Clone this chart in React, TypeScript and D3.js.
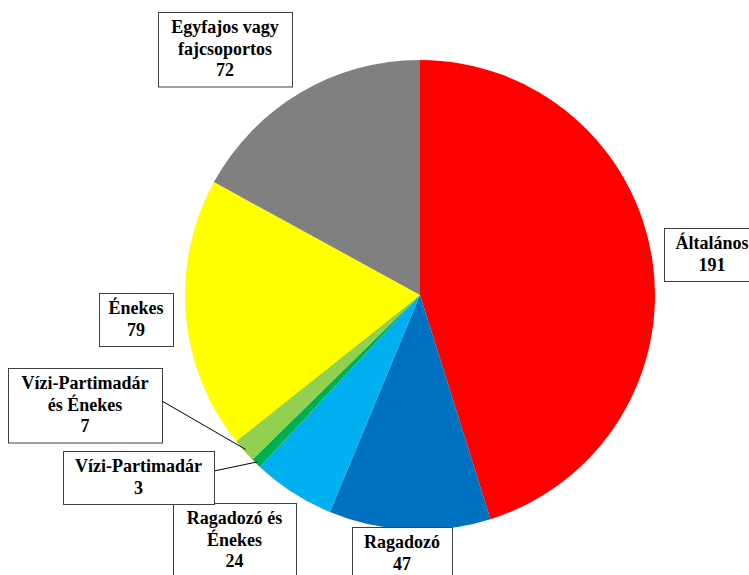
import * as d3 from "d3";

// kategóriák és értékek
const categories = [
  "Általános",
  "Ragadozó",
  "Ragadozó és Énekes",
  "Vízi-Partimadár",
  "Vízi-Partimadár és Énekes",
  "Énekes",
  "Egyfajos vagy fajcsoportos",
];
const values = [191, 47, 24, 3, 7, 79, 72];
const labelLines = [
  ["Általános"],
  ["Ragadozó"],
  ["Ragadozó és", "Énekes"],
  ["Vízi-Partimadár"],
  ["Vízi-Partimadár", "és Énekes"],
  ["Énekes"],
  ["Egyfajos vagy", "fajcsoportos"],
];
const colors = ["#FF0000", "#0070C0", "#00B0F0", "#00B050", "#92D050", "#FFFF00", "#808080"];

// label box layout (center x, top y, width), hand placed like in the original
const boxes = [
  { cx: 712, top: 228, w: 96, leader: false },
  { cx: 402, top: 527, w: 100, leader: false },
  { cx: 234.5, top: 503, w: 123, leader: false },
  { cx: 138.5, top: 451, w: 151, leader: true, ly: 471 },
  { cx: 85, top: 368, w: 154, leader: true, ly: 401 },
  { cx: 136, top: 293, w: 74, leader: false },
  { cx: 225, top: 12, w: 134, leader: false },
];

const width = 749;
const height = 575;
const cx = 420;
const cy = 295;
const radius = 235;
const lineH = 21.5;
const font = '"Liberation Serif", "DejaVu Serif", "Times New Roman", serif';

export default function App() {
  const data = categories.map((c, i) => ({ name: c, value: values[i], i }));
  const pie = d3.pie<{ name: string; value: number; i: number }>()
    .sort(null)
    .value(d => d.value);
  const arcs = pie(data);
  const arc = d3.arc<d3.PieArcDatum<any>>().innerRadius(0).outerRadius(radius);

  return (
    <svg
      width={width}
      height={height}
      style={{ position: "absolute", left: 0, top: 0, background: "#fff" }}
    >
      <g transform={`translate(${cx},${cy})`}>
        {arcs.map(a => (
          <path key={a.data.name} d={arc(a) || ""} fill={colors[a.data.i]} />
        ))}
      </g>
      {arcs.map(a => {
        const b = boxes[a.data.i];
        const lines = [...labelLines[a.data.i], String(a.data.value)];
        const h = lines.length * lineH + 10;
        const mid = (a.startAngle + a.endAngle) / 2;
        const px = cx + (radius - 2) * Math.sin(mid);
        const py = cy - (radius - 2) * Math.cos(mid);
        return (
          <g key={"lbl" + a.data.name}>
            {b.leader && (
              <line x1={b.cx + b.w / 2} y1={b.ly} x2={px} y2={py} stroke="#000" strokeWidth={1} />
            )}
            <rect
              x={b.cx - b.w / 2 + 0.5}
              y={b.top + 0.5}
              width={b.w}
              height={h}
              fill="#fff"
              stroke="#404040"
              strokeWidth={1}
            />
            {lines.map((t, k) => (
              <text
                key={k}
                x={b.cx}
                y={b.top + 5 + lineH * k + 16}
                textAnchor="middle"
                style={{ fontFamily: font, fontSize: 18, fontWeight: "bold" }}
                fill="#000"
              >
                {t}
              </text>
            ))}
          </g>
        );
      })}
    </svg>
  );
}
